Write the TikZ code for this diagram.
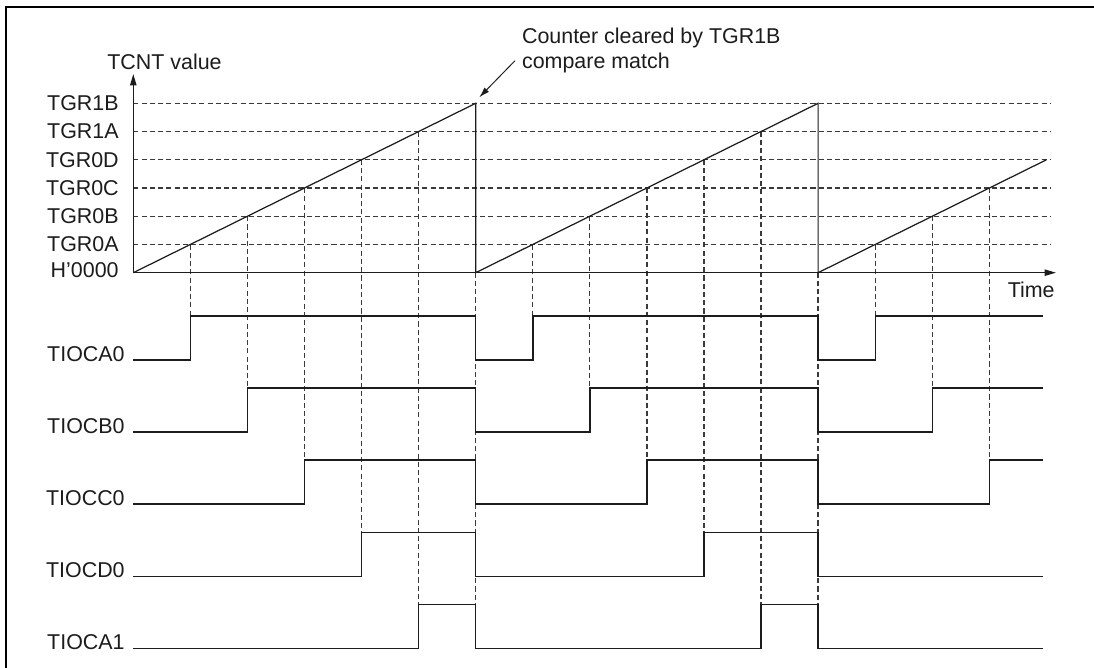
\documentclass[tikz,border=0pt]{standalone}
\usepackage{fontspec}
\setmainfont{Liberation Sans}
\usetikzlibrary{arrows.meta}
\definecolor{Ink}{HTML}{1C1C1C}
\definecolor{Grid}{HTML}{3A3A3A}

\begin{document}
\begin{tikzpicture}[x=0.02cm,y=-0.02cm,
  lbl/.style={font=\fontsize{12.2}{14.2}\selectfont,text=Ink,inner sep=0pt},
  wave/.style={Ink,line width=0.8pt},
  ramp/.style={Ink,line width=0.7pt},
  guide/.style={Grid,line width=0.75pt,dash pattern=on 2.9pt off 1.8pt},
  axis/.style={Ink,line width=0.8pt,-{Triangle[length=6.5pt,width=3.6pt]}}]
\useasboundingbox (0,0) rectangle (1094,668);
\draw[black,line width=1.2pt] (1094,7) -- (6,7) -- (6,668);
% count levels
\node[lbl,anchor=east] (tgr1b) at (119,103.3) {TGR1B};
\node[lbl,anchor=east] (tgr1a) at (119,131.5) {TGR1A};
\node[lbl,anchor=east] (tgr0d) at (119,159.8) {TGR0D};
\node[lbl,anchor=east] (tgr0c) at (119,188.0) {TGR0C};
\node[lbl,anchor=east] (tgr0b) at (119,216.2) {TGR0B};
\node[lbl,anchor=east] (tgr0a) at (119,244.5) {TGR0A};
\node[lbl,anchor=east] (zero) at (119,270.5) {H'0000};
\node[lbl,anchor=base west] (tcnt) at (107,70) {TCNT value};
\node[lbl,anchor=base east] (time) at (1055,298) {Time};
\draw[guide] (133.3,103.3) -- (1051,103.3);
\draw[guide] (133.3,131.5) -- (1051,131.5);
\draw[guide] (133.3,159.8) -- (1051,159.8);
\draw[guide] (133.3,188.0) -- (1051,188.0);
\draw[guide] (133.3,216.2) -- (1051,216.2);
\draw[guide] (133.3,244.5) -- (1051,244.5);
% compare match drop lines
\draw[guide] (190.4,244.5) -- (190.4,316);
\draw[guide] (247.4,216.2) -- (247.4,388.1);
\draw[guide] (304.5,188.0) -- (304.5,460.2);
\draw[guide] (361.6,159.8) -- (361.6,532.3);
\draw[guide] (418.7,131.5) -- (418.7,604.4);
\draw[guide] (475.7,272.7) -- (475.7,604.4);
\draw[guide] (532.8,244.5) -- (532.8,316);
\draw[guide] (589.8,216.2) -- (589.8,388.1);
\draw[guide] (646.9,188.0) -- (646.9,460.2);
\draw[guide] (704.0,159.8) -- (704.0,532.3);
\draw[guide] (761.1,131.5) -- (761.1,604.4);
\draw[guide] (818.1,272.7) -- (818.1,604.4);
\draw[guide] (875.2,244.5) -- (875.2,316);
\draw[guide] (932.3,216.2) -- (932.3,388.1);
\draw[guide] (989.3,188.0) -- (989.3,460.2);
% axes and counter
\draw[axis] (133.3,272.7) -- (133.3,74);
\draw[axis] (133.3,272.7) -- (1056,272.7);
\draw[ramp] (133.3,272.7) -- (475.7,103.3) -- (475.7,272.7) -- (818.1,103.3)
  -- (818.1,272.7) -- (1046.4,159.8);
% output waveforms
\node[lbl,anchor=base east] (tioca0) at (125,361) {TIOCA0};
\node[lbl,anchor=base east] (tiocb0) at (125,433.1) {TIOCB0};
\node[lbl,anchor=base east] (tiocc0) at (125,505.2) {TIOCC0};
\node[lbl,anchor=base east] (tiocd0) at (125,577.3) {TIOCD0};
\node[lbl,anchor=base east] (tioca1) at (125,649.4) {TIOCA1};
\draw[wave] (133.3,360) -| (190.4,316) -| (475.7,360) -| (532.8,316)
  -| (818.1,360) -| (875.2,316) -- (1043,316);
\draw[wave] (133.3,432.1) -| (247.4,388.1) -| (475.7,432.1) -| (589.8,388.1)
  -| (818.1,432.1) -| (932.3,388.1) -- (1043,388.1);
\draw[wave] (133.3,504.2) -| (304.5,460.2) -| (475.7,504.2) -| (646.9,460.2)
  -| (818.1,504.2) -| (989.3,460.2) -- (1043,460.2);
\draw[wave] (133.3,576.3) -| (361.6,532.3) -| (475.7,576.3) -| (704.0,532.3)
  -| (818.1,576.3) -- (1043,576.3);
\draw[wave] (133.3,648.4) -| (418.7,604.4) -| (475.7,648.4) -| (761.1,604.4)
  -| (818.1,648.4) -- (1043,648.4);
% note
\node[lbl,anchor=north west,align=left] (note) at (521.7,28)
  {Counter cleared by TGR1B\\compare match};
\coordinate (tail) at (515,60.7);
\coordinate (clr) at (479.3,97.3);
\draw[Ink,line width=0.55pt,-{Latex[length=6pt,width=3.6pt]}] (tail) -- (clr);
\end{tikzpicture}
\end{document}
